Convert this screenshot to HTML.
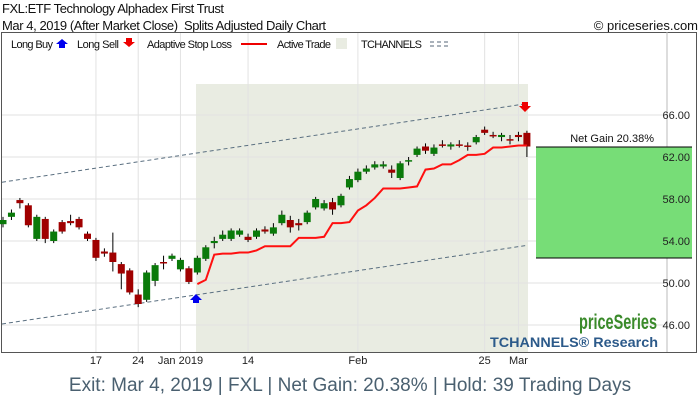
<!DOCTYPE html>
<html><head><meta charset="utf-8"><style>
body{margin:0;background:#fff;font-family:"Liberation Sans",sans-serif;}
svg{display:block}
</style></head><body>
<svg id="c" width="700" height="400" xmlns="http://www.w3.org/2000/svg">
<rect x="0" y="0" width="700" height="400" fill="#fff"/>
<text x="2" y="13" font-size="13" fill="#111" textLength="222">FXL:ETF Technology Alphadex First Trust</text>
<text x="2" y="30" font-size="13" fill="#111" textLength="324">Mar 4, 2019 (After Market Close)&#160;&#160;Splits Adjusted Daily Chart</text>
<text x="698" y="30" font-size="13" fill="#111" text-anchor="end">© priceseries.com</text>
<rect x="1.5" y="32.5" width="695" height="320" fill="#fff" stroke="#555"/>
<rect x="196" y="84" width="332" height="268" fill="#e9ece2"/>
<g id="grid"></g>
<g id="channels"></g>
<g id="candles"></g>
<g id="stop"></g>
<g id="legend" font-size="11" fill="#111">
<text x="11" y="48" textLength="42">Long Buy</text>
<path d="M56,44 l6,-5 l6,5 h-3 v4 h-6 v-4z" fill="#0000ee"/>
<text x="77" y="48" textLength="42">Long Sell</text>
<path d="M123,42 l6,5 l6,-5 h-3 v-4 h-6 v4z" fill="#ee0000"/>
<text x="147" y="48" textLength="85">Adaptive Stop Loss</text>
<line x1="241" y1="44" x2="267" y2="44" stroke="#ee0000" stroke-width="2"/>
<text x="277" y="48" textLength="54">Active Trade</text>
<rect x="336" y="38" width="11" height="11" fill="#e9ece2"/>
<text x="361" y="48" textLength="61">TCHANNELS</text>
<line x1="430" y1="42" x2="448" y2="42" stroke="#567" stroke-dasharray="4,3"/>
<line x1="430" y1="46" x2="448" y2="46" stroke="#567" stroke-dasharray="4,3"/>
</g>
<rect x="536" y="147" width="156" height="111" fill="#77dd77"/>
<line x1="536" y1="147" x2="692" y2="147" stroke="#000"/>
<line x1="536" y1="258" x2="692" y2="258" stroke="#000"/>
<text x="654" y="142" font-size="11" text-anchor="end" fill="#111">Net Gain 20.38%</text>
<text x="579" y="329" font-size="21" font-weight="bold" fill="#3a8a2a" textLength="78" lengthAdjust="spacingAndGlyphs">priceSeries</text>
<text x="490" y="347" font-size="14" font-weight="bold" fill="#2c5a8a" textLength="168" lengthAdjust="spacingAndGlyphs">TCHANNELS® Research</text>
<path d="M190,300 l6,-6 l6,6 h-3 v3 h-6 v-3z" fill="#0000ee"/>
<path d="M519,106 l6,6 l6,-6 h-3 v-4 h-6 v4z" fill="#ee0000"/>
<g id="axes" font-size="11" fill="#222"></g>
<text x="350" y="391" font-size="19" fill="#4a6070" text-anchor="middle">Exit: Mar 4, 2019 | FXL | Net Gain: 20.38% | Hold: 39 Trading Days</text>
</svg>
<script>
const opens=[55.6,56.3,57.9,57.4,54.2,56.1,54.0,55.8,55.9,56.1,54.7,54.1,53.0,52.9,51.8,51.2,48.9,48.4,50.2,52.0,52.3,51.3,51.4,51.0,52.3,53.8,54.2,54.2,54.6,54.4,54.4,55.1,54.7,55.7,56.0,55.7,55.8,57.2,57.1,57.7,57.4,59.1,59.8,60.6,61.0,61.1,60.8,60.0,61.6,62.2,63.0,62.3,63.2,63.0,63.2,63.1,63.4,64.6,64.1,63.9,63.7,64.1,64.3];
const closes=[56.0,56.7,57.6,55.5,56.3,54.2,54.9,54.9,55.7,55.3,54.2,52.4,52.8,52.0,50.9,49.1,48.0,51.0,51.7,51.9,52.6,52.2,50.1,52.4,53.4,54.0,54.6,55.0,55.0,54.1,55.0,54.9,55.3,56.5,55.3,55.5,56.7,58.0,57.6,57.0,58.3,59.9,60.6,60.9,61.3,61.3,60.5,61.4,61.7,62.8,62.6,62.9,63.1,63.2,63.1,63.0,63.9,64.3,64.0,64.1,63.6,63.9,63.0];
const lowExtra=[0.3,0.3,0.5,0.2,0.2,0.4,0.2,0.2,0.2,0.2,0.2,0.3,0.3,0.9,1.5,0.2,0.3,0.2,0.5,0.6,0.2,0.2,0.2,0.2,0.2,0.5,0.2,0.2,0.2,0.2,0.2,0.2,0.2,0.2,0.5,0.5,0.2,0.2,0.2,0.5,0.2,0.2,0.2,0.2,0.2,0.2,0.5,0.2,0.4,0.2,0.3,0.2,0.2,0.3,0.2,0.4,0.2,0.2,0.2,0.4,0.4,0.4,1.0];
const highExtra=[0.3,0.3,0.2,0.2,0.2,0.2,0.2,0.2,0.6,0.2,0.2,0.2,0.3,1.9,0.2,0.2,0.5,0.2,0.2,0.6,0.2,0.2,0.2,0.2,0.2,0.4,0.4,0.2,0.2,0.3,0.2,0.3,0.4,0.4,0.4,0.4,0.2,0.2,0.3,0.4,0.2,0.3,0.3,0.3,0.3,0.3,0.4,0.2,0.3,0.2,0.3,0.3,0.4,0.2,0.4,0.3,0.2,0.3,0.3,0.2,0.4,0.3,0.2];
const stopStart=23;
const stops=[49.9,50.3,52.7,52.8,52.8,52.9,52.9,53.1,53.5,53.5,53.5,53.5,54.3,54.3,54.3,54.4,55.7,55.7,55.8,56.9,57.4,58.1,59.0,59.0,59.0,59.1,59.2,60.8,60.9,61.3,61.3,61.7,62.2,62.2,62.3,62.9,62.9,63.0,63.1,63.1];
const yTicks=[46,50,54,58,62,66];
const xTickIdx=[11,16,21,29,42,57,61];
const xTickLabels=["17","24","Jan 2019","14","Feb","25","Mar"];
const upperChan=[59.6,67.1];
const lowerChan=[46.1,53.6];
const NS='http://www.w3.org/2000/svg';
const X=i=>3+i*8.45;
const Y=p=>115+(66-p)*10.5;
function mk(t,a,parent){const e=document.createElementNS(NS,t);for(const k in a)e.setAttribute(k,a[k]);parent.appendChild(e);return e;}
const grid=document.getElementById('grid'),axes=document.getElementById('axes');
yTicks.forEach(v=>{
 const l=mk('line',{x1:2,x2:667,y1:Y(v),y2:Y(v),stroke:'#e2e2e2'},grid);
 
 
 const t=mk('text',{x:690,y:Y(v)+4,'text-anchor':'end'},axes);t.textContent=v.toFixed(2);
 
 
});
xTickIdx.forEach((ix,k)=>{
 const l=mk('line',{x1:X(ix),x2:X(ix),y1:33,y2:352,stroke:'#e2e2e2'},grid);
 
 
 const t=mk('text',{x:X(ix),y:364,'text-anchor':'middle'},axes);t.textContent=xTickLabels[k];
 
 
});
mk('line',{x1:667,x2:667,y1:32,y2:352,stroke:'#bbb'},grid);
const ch=document.getElementById('channels');
[upperChan,lowerChan].forEach((c,k)=>{
 const l=mk('line',{x1:2,y1:Y(c[0]),x2:528,y2:Y(c[1]),stroke:'#5a6f80','stroke-dasharray':'4,3'},ch);
 
 
});
const cg=document.getElementById('candles');
opens.forEach((o,i)=>{
 const c=closes[i],up=c>=o,x=X(i);
 const hi=Math.max(o,c)+highExtra[i],lo=Math.min(o,c)-lowExtra[i];
 const w=mk('line',{x1:x,x2:x,y1:Y(hi),y2:Y(lo),stroke:'#000'},cg);
 
 
 const top=Y(Math.max(o,c)),h=Math.max(1.5,Y(Math.min(o,c))-top);
 const r=mk('rect',{x:x-3.5,y:top,width:7,height:h,fill:up?'#0a7a0a':'#a00000'},cg);
 
 
});
const pts=stops.map((s,k)=>X(stopStart+k)+','+Y(s)).join(' ');
const pl=mk('polyline',{points:pts,fill:'none',stroke:'#ff1010','stroke-width':2},document.getElementById('stop'));


</script>
</body></html>
